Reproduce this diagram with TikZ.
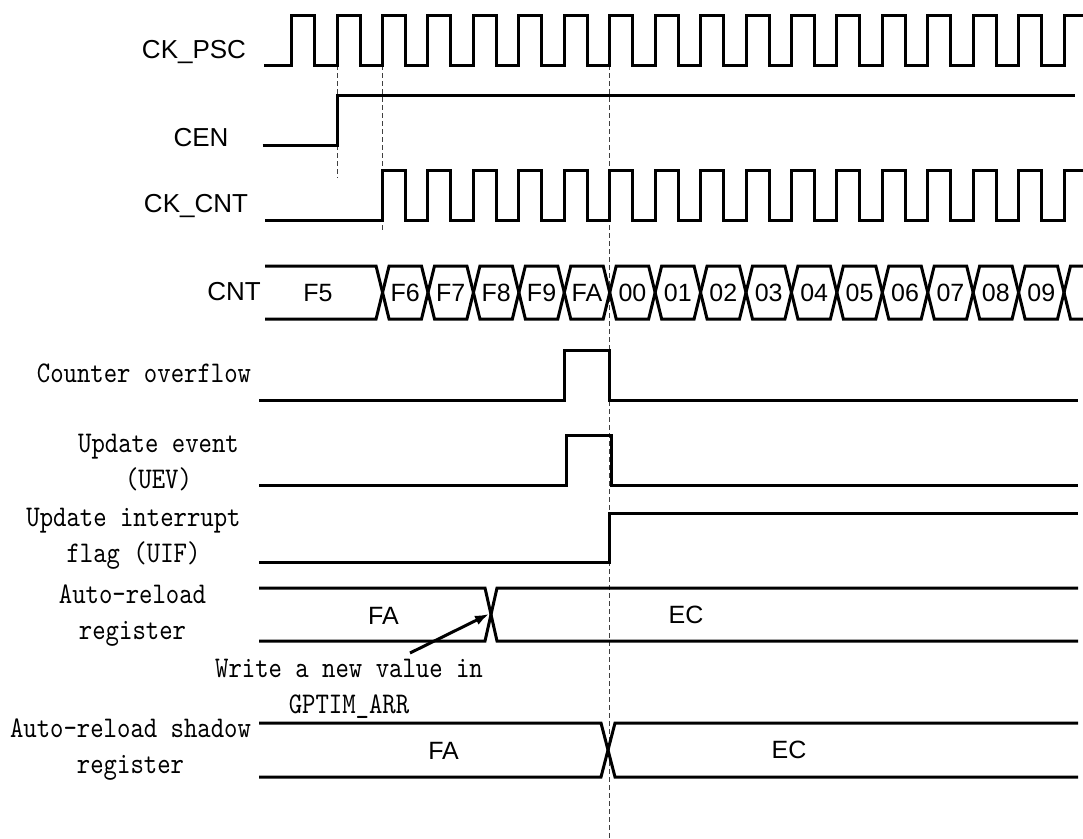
\documentclass[tikz,border=0pt]{standalone}
\usepackage{fontspec}
\setmainfont{Liberation Sans}
\newfontfamily\simmono[FakeStretch=0.85]{lmmono10-regular.otf}
\usetikzlibrary{arrows.meta,positioning,calc}
\newcommand{\clkzero}{291.7}
\newcommand{\clkper}{45.43}
\newcommand{\clkhalf}{23}
\tikzset{
  sigwave/.style   = {line width=3pt, line join=miter, line cap=butt},
  guideline/.style = {dash pattern=on 5pt off 3pt, line width=1pt, draw=black!75},
  sanslabel/.style = {font=\fontsize{26}{30}\selectfont, inner sep=0pt},
  monolabel/.style = {font=\simmono\fontsize{30}{36}\selectfont, align=center, inner sep=0pt},
  busvalue/.style  = {font=\fontsize{25}{29}\selectfont, inner sep=0pt},
  notearrow/.style = {-{Latex[length=14pt,width=10pt]}, line width=3pt},
}
\begin{document}
\begin{tikzpicture}[x=1pt,y=-1pt]
  \useasboundingbox (0,0) rectangle (1083,838);
  \draw[guideline] (337,65) -- (337,178);
  \draw[guideline] ({\clkzero+2*\clkper},65) -- ({\clkzero+2*\clkper},230);
  \draw[guideline] ({\clkzero+7*\clkper},65) -- ({\clkzero+7*\clkper},838);

  \node[sanslabel] (lblckpsc) at (194,52) {CK\_PSC};
  \node[sanslabel] (lblcen) at (201,138) {CEN};
  \node[sanslabel] (lblckcnt) at (196,206) {CK\_CNT};
  \node[sanslabel] (lblcnt) at (234,292) {CNT};
  \node[monolabel] (lblovf) at (144,373) {Counter overflow};
  \node[monolabel] (lbluev) at (158.5,463) {Update event\\(UEV)};
  \node[monolabel] (lbluif) at (133.5,539) {Update interrupt\\flag (UIF)};
  \node[monolabel] (lblarr) at (132.5,616) {Auto-reload\\register};
  \node[monolabel] (lblshadow) at (130.5,750) {Auto-reload shadow\\register};
  \node[monolabel] (note) at (349,689) {Write a new value in\\GPTIM\_ARR};

  \draw[sigwave] (264,65) foreach \k in {0,...,16}{ -- ({\clkzero+\k*\clkper},65) -- ++(0,-50) -- ++(\clkhalf,0) -- ++(0,50) }
    -- ({\clkzero+17*\clkper},65) -- ++(0,-50) -- (1083,15);
  \draw[sigwave] (262.7,145) -- (337,145) -- (337,95) -- (1075,95);
  \draw[sigwave] (265,220) foreach \k in {2,...,16}{ -- ({\clkzero+\k*\clkper},220) -- ++(0,-50) -- ++(\clkhalf,0) -- ++(0,50) }
    -- ({\clkzero+17*\clkper},220) -- ++(0,-50) -- (1083,170);

  \draw[sigwave] (265,266) -- ({\clkzero+2*\clkper-6.5},266) -- ++(6.5,26.5);
  \draw[sigwave] (265,319) -- ({\clkzero+2*\clkper-6.5},319) -- ++(6.5,-26.5);
  \node[busvalue] (cnt1) at (318,293) {F5};
  \foreach \v [count=\k from 2] in {F6,F7,F8,F9,FA,00,01,02,03,04,05,06,07,08,09}{
    \draw[sigwave] ({\clkzero+\k*\clkper},292.5) -- ++(6.5,-26.5) -- ({\clkzero+(\k+1)*\clkper-6.5},266) -- ++(6.5,26.5);
    \draw[sigwave] ({\clkzero+\k*\clkper},292.5) -- ++(6.5,26.5) -- ({\clkzero+(\k+1)*\clkper-6.5},319) -- ++(6.5,-26.5);
    \node[busvalue] (cnt\k) at ({\clkzero+(\k+0.5)*\clkper},293) {\v};
  }
  \draw[sigwave] ({\clkzero+17*\clkper},292.5) -- ++(6.5,-26.5) -- (1083,266);
  \draw[sigwave] ({\clkzero+17*\clkper},292.5) -- ++(6.5,26.5) -- (1083,319);

  \draw[sigwave] (259,400) -- (564.3,400) -- (564.3,350) -- ({\clkzero+7*\clkper},350) -- ({\clkzero+7*\clkper},400) -- (1078,400);
  \draw[sigwave] (259,485) -- (566,485) -- (566,435) -- (611.7,435) -- (611.7,485) -- (1078,485);
  \draw[sigwave] (259,562) -- (609,562) -- (609,513) -- (1078,513);

  \draw[sigwave] (259,588) -- (485,588) -- (491,614.5) -- (485,641) -- (259,641);
  \draw[sigwave] (1078,588) -- (497,588) -- (491,614.5) -- (497,641) -- (1078,641);
  \node[busvalue] (regfa) at (383.5,616) {FA};
  \node[busvalue] (regec) at (686,615) {EC};

  \draw[sigwave] (259,723) -- (601,723) -- (608,750) -- (601,777) -- (259,777);
  \draw[sigwave] (1078,723) -- (615,723) -- (608,750) -- (615,777) -- (1078,777);
  \node[busvalue] (shfa) at (443.6,751) {FA};
  \node[busvalue] (shec) at (789,750) {EC};

  \coordinate (arrtail) at (410,653);
  \coordinate (arrtip) at (489,614);
  \draw[notearrow] (arrtail) -- (arrtip);
\end{tikzpicture}
\end{document}
